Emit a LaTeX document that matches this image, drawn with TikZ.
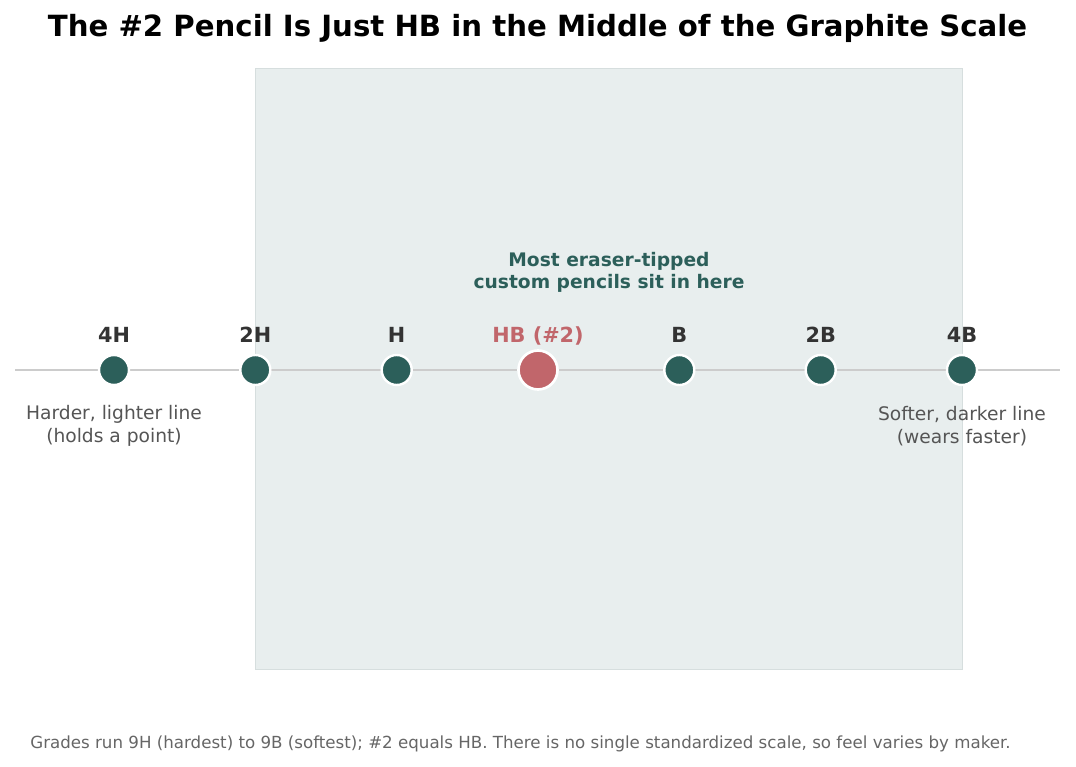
\documentclass[tikz,border=0pt]{standalone}
\usepackage{fontspec}
\setmainfont{DejaVu Sans}
\definecolor{panel}{HTML}{E8EEEE}
\definecolor{paneledge}{HTML}{D6DEDE}
\definecolor{teal}{HTML}{2C5F5A}
\definecolor{hbred}{HTML}{C1666B}
\definecolor{axisgray}{HTML}{CCCCCC}
\definecolor{labeldark}{HTML}{333333}
\definecolor{sidegray}{HTML}{555555}
\definecolor{footgray}{HTML}{666666}
\tikzset{
  grade/.style={circle, fill=teal, draw=white, line width=1.8pt, minimum size=30*0.75pt, inner sep=0pt},
  hbdot/.style={circle, fill=hbred, draw=white, line width=2pt, minimum size=39*0.75pt, inner sep=0pt},
  gradelabel/.style={inner sep=0pt, anchor=base, text=labeldark, font=\fontsize{15.6pt}{18pt}\selectfont\bfseries},
  sidelabel/.style={inner sep=0pt, align=center, text=sidegray, font=\fontsize{14pt}{17.3pt}\selectfont},
}
\begin{document}
\begin{tikzpicture}[x=0.75pt, y=-0.75pt]
\useasboundingbox (0,0) rectangle (1076,767);
\fill[white] (0,0) rectangle (1076,767);
% panel
\draw[fill=panel, draw=paneledge, line width=0.75pt] (255,69) rectangle (962,669);
% title
\node[inner sep=0pt, font=\fontsize{21.9pt}{26pt}\selectfont\bfseries] (title) at (537.5,28) {The \#2 Pencil Is Just HB in the Middle of the Graphite Scale};
% axis
\coordinate (L) at (15,370);
\coordinate (R) at (1060,370);
\draw[axisgray, line width=2pt] (L) -- (R);
% dots
\node[grade] (d1) at (114,370) {};
\node[grade] (d2) at (255.3,370) {};
\node[grade] (d3) at (396.7,370) {};
\node[hbdot] (d4) at (538,370) {};
\node[grade] (d5) at (679.3,370) {};
\node[grade] (d6) at (820.7,370) {};
\node[grade] (d7) at (962,370) {};
% grade labels
\node[gradelabel] (l1) at (114,342.5) {4H};
\node[gradelabel] (l2) at (255.3,342.5) {2H};
\node[gradelabel] (l3) at (396.7,342.5) {H};
\node[gradelabel, text=hbred] (l4) at (538,342.5) {HB (\#2)};
\node[gradelabel] (l5) at (679.3,342.5) {B};
\node[gradelabel] (l6) at (820.7,342.5) {2B};
\node[gradelabel] (l7) at (962,342.5) {4B};
% annotation
\node[inner sep=0pt, align=center, text=teal, font=\fontsize{14pt}{16.5pt}\selectfont\bfseries] (note) at (609,272) {Most eraser-tipped\\custom pencils sit in here};
% side labels
\node[sidelabel] (hard) at (114,426) {Harder, lighter line\\(holds a point)};
\node[sidelabel] (soft) at (962,426) {Softer, darker line\\(wears faster)};
% footer
\node[inner sep=0pt, text=footgray, font=\fontsize{12.5pt}{15pt}\selectfont] (foot) at (520.5,744) {Grades run 9H (hardest) to 9B (softest); \#2 equals HB. There is no single standardized scale, so feel varies by maker.};
\end{tikzpicture}
\end{document}
